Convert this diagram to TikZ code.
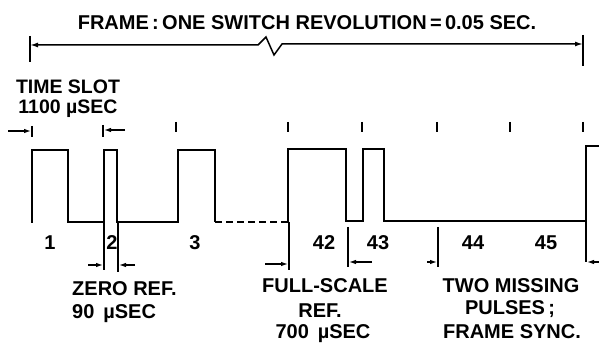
\documentclass[tikz,border=0pt]{standalone}
\usepackage{fontspec}
\setmainfont{Liberation Sans}
\usetikzlibrary{arrows.meta}
\begin{document}
\begin{tikzpicture}[x=1pt,y=-1pt,
  lbl/.style={font=\fontsize{20}{24}\selectfont\bfseries, inner sep=0pt, anchor=base},
  pulse/.style={line width=2.3pt, line join=miter},
  frameln/.style={line width=1.5pt},
  bar/.style={line width=1.2pt},
  tick/.style={line width=1.6pt},
  dimarrow/.style={line width=1.2pt, -{Latex[length=7pt,width=4.5pt]}},
  bothdim/.style={line width=1.5pt, {Latex[length=8pt,width=5pt]}-{Latex[length=8pt,width=5pt]}}]
\useasboundingbox (0,0) rectangle (599,344);

% title
\node[lbl] (title) at (307,30) {FRAME\,:\,ONE SWITCH REVOLUTION\,=\,0.05 SEC.};

% frame dimension line
\coordinate (fl) at (30,45);
\coordinate (fr) at (583,44);
\draw[bar] (30,36) -- (30,62);
\draw[bar] (583,35) -- (583,66);
\draw[bothdim] (fl) -- (258,45) -- (266,37) -- (274,55) -- (282,44) -- (fr);

% time slot
\node[lbl, font=\fontsize{19.5}{23}\selectfont\bfseries] (ts1) at (68,93.5) {TIME SLOT};
\node[lbl, font=\fontsize{19.5}{23}\selectfont\bfseries] (ts2) at (68,114) {1100 µSEC};
\coordinate (tsa) at (8,131);
\coordinate (tsb) at (31,131);
\coordinate (tsc) at (125,130);
\coordinate (tsd) at (104,130);
\draw[bar] (32,126) -- (32,137);
\draw[bar] (103,125) -- (103,137);
\draw[dimarrow] (tsa) -- (tsb);
\draw[dimarrow] (tsc) -- (tsd);

% ticks
\foreach \x in {176,288,362,437,510,583}
  \draw[tick] (\x,122) -- (\x,132);

% waveform
\draw[pulse] (32,223) -- (32,150) -- (68,150) -- (68,222) -- (104,222) -- (104,150)
  -- (117,150) -- (117,222) -- (178,222) -- (178,150) -- (215,150) -- (215,222);
\draw[pulse, line width=2pt, dash pattern=on 7pt off 4pt] (215,222) -- (288,222);
\draw[pulse] (288,222) -- (288,149) -- (346,149) -- (346,221) -- (363,221) -- (363,149)
  -- (384,149) -- (384,221) -- (586,221) -- (586,146) -- (599,146);

% slot numbers
\node[lbl] (n1) at (50,250) {1};
\node[lbl] (n2) at (112,250) {2};
\node[lbl] (n3) at (195,250) {3};
\node[lbl] (n42) at (324,250) {42};
\node[lbl] (n43) at (378,250) {43};
\node[lbl] (n44) at (473,250) {44};
\node[lbl] (n45) at (546,250) {45};

% lower dimension bars
\draw[bar] (104,222) -- (104,270);
\draw[bar] (118,222) -- (118,272);
\draw[bar] (289,222) -- (289,270);
\draw[bar] (348,227) -- (348,267);
\draw[bar] (438,227) -- (438,267);
\draw[bar] (586,222) -- (586,262);
\coordinate (za) at (88,265);  \coordinate (zb) at (103,265);
\coordinate (zc) at (135,265); \coordinate (zd) at (119,265);
\coordinate (fa) at (265,264); \coordinate (fb) at (288,264);
\coordinate (fc) at (372,262); \coordinate (fd) at (349,262);
\coordinate (ma) at (427,262); \coordinate (mb) at (437,262);
\coordinate (mc) at (599,262); \coordinate (md) at (587,262);
\draw[dimarrow] (za) -- (zb);
\draw[dimarrow] (zc) -- (zd);
\draw[dimarrow] (fa) -- (fb);
\draw[dimarrow] (fc) -- (fd);
\draw[dimarrow] (ma) -- (mb);
\draw[dimarrow] (mc) -- (md);

% lower labels
\node[lbl, anchor=base west] (z1) at (72,295) {ZERO REF.};
\node[lbl, anchor=base west] (z2) at (72,318) {90 \,µSEC};
\node[lbl] (f1) at (325,293) {FULL-SCALE};
\node[lbl] (f2) at (320,317) {REF.};
\node[lbl] (f3) at (323,338) {700 \,µSEC};
\node[lbl] (t1) at (511,293) {TWO MISSING};
\node[lbl] (t2) at (510,315) {PULSES\,;};
\node[lbl] (t3) at (512,338) {FRAME SYNC.};
\end{tikzpicture}
\end{document}
